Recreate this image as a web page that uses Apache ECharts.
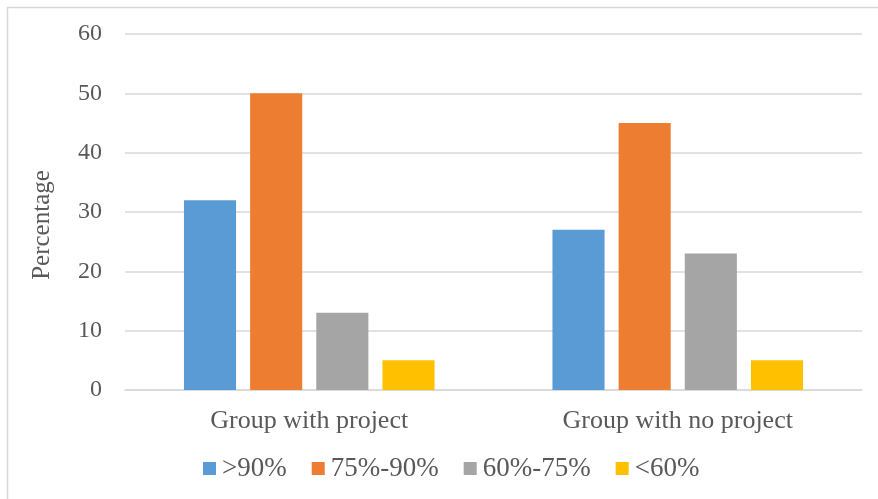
<!DOCTYPE html>
<html><head><meta charset="utf-8">
<script src="https://cdn.jsdelivr.net/npm/echarts@6/dist/echarts.min.js"></script>
<style>html,body{margin:0;padding:0;background:#fff}#c{width:878px;height:499px}</style>
</head><body><div id="c"></div>
<script>
const categories = ['Group with project', 'Group with no project'];
const seriesNames = ['>90%', '75%-90%', '60%-75%', '<60%'];
const gt90 = [32, 27];
const p75to90 = [50, 45];
const p60to75 = [13, 23];
const lt60 = [5, 5];
const colors = ['#5B9BD5', '#ED7D31', '#A5A5A5', '#FFC000'];
const values = [gt90, p75to90, p60to75, lt60];
const font = '"Liberation Serif", "Times New Roman", serif';
const chart = echarts.init(document.getElementById('c'));
chart.setOption({
  animation: false,
  textStyle: { fontFamily: font },
  grid: { left: 125, right: 16, top: 34, bottom: 109 },
  graphic: [
    { type: 'line', shape: { x1: 7.5, y1: 7, x2: 7.5, y2: 499 }, style: { stroke: '#d9d9d9', lineWidth: 1.5 } },
    { type: 'line', shape: { x1: 7, y1: 7.5, x2: 878, y2: 7.5 }, style: { stroke: '#d9d9d9', lineWidth: 1.5 } }
  ],
  legend: {
    top: 455, left: 203, padding: 0,
    itemWidth: 13, itemHeight: 13, itemGap: 25,
    icon: 'rect',
    textStyle: { fontFamily: font, fontSize: 27, color: '#595959', padding: [0, 0, 0, 1] },
    data: seriesNames
  },
  xAxis: {
    type: 'category', data: categories,
    axisLine: { lineStyle: { color: '#d9d9d9', width: 1.5 } },
    axisTick: { show: false },
    axisLabel: { fontFamily: font, fontSize: 26, color: '#595959', margin: 18 }
  },
  yAxis: {
    type: 'value', min: 0, max: 60, interval: 10,
    name: 'Percentage', nameLocation: 'middle', nameGap: 70, nameRotate: 90,
    nameTextStyle: { fontFamily: font, fontSize: 25, color: '#595959', padding: [0, 26, 0, 0] },
    axisLine: { show: false }, axisTick: { show: false },
    axisLabel: { fontFamily: font, fontSize: 24, color: '#595959', margin: 23 },
    splitLine: { lineStyle: { color: '#d9d9d9', width: 1.5 } }
  },
  series: seriesNames.map((n, i) => ({
    name: n, type: 'bar', data: values[i],
    barGap: '27%', barCategoryGap: '32%',
    itemStyle: { color: colors[i] }
  }))
});
</script></body></html>
